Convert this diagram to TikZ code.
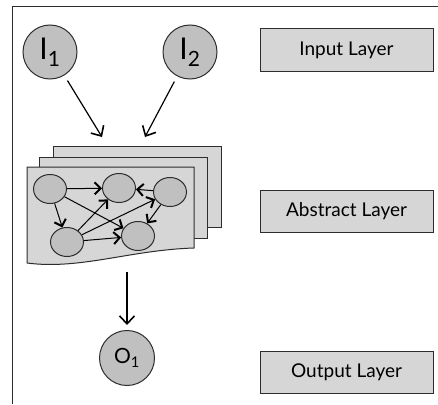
\documentclass[tikz,border=0pt]{standalone}
\usepackage{fontspec}
\setmainfont{Lato}
\usetikzlibrary{arrows.meta, shapes.geometric}
\definecolor{UnitGray}{RGB}{192,192,192}
\definecolor{SheetGray}{RGB}{214,214,214}
\definecolor{EdgeGray}{RGB}{45,45,45}

\begin{document}
\begin{tikzpicture}[x=1pt, y=-1pt,
    unit/.style={circle, draw=EdgeGray, fill=UnitGray, line width=1pt,
                 minimum size=54pt, inner sep=0pt},
    cell/.style={ellipse, draw=EdgeGray, fill=UnitGray, line width=1pt,
                 minimum width=33pt, minimum height=29pt, inner sep=0pt},
    layerbox/.style={draw=EdgeGray, fill=SheetGray, line width=1pt,
                     minimum width=173pt, minimum height=42pt,
                     font=\fontsize{19}{22}\selectfont},
    sheet/.style={draw=EdgeGray, fill=SheetGray, line width=1pt},
    flow/.style={-{Straight Barb[length=8pt, width=15pt, line width=1.6pt]}, line width=1.2pt},
    link/.style={-{Straight Barb[length=6pt, width=12pt, line width=2pt]}, line width=1pt}]
            \useasboundingbox (0,0) rectangle (438,404);
            % Frame (top and left edges only)
            \draw[EdgeGray, line width=1pt] (12,404) -- (12,7) -- (438,7);
            % Input units
            \node[unit, font=\fontsize{30}{32}\selectfont] (i1) at (50,52) {I\textsubscript{1}};
            \node[unit, font=\fontsize{30}{32}\selectfont] (i2) at (190,52) {I\textsubscript{2}};
            % Stacked sheets of the abstract layer
            \draw[sheet] (53,146) rectangle (221,227);
            \draw[sheet] (39,157) rectangle (207,238);
            \draw[sheet] (27,167) -- (194,167) -- (194,248)
                .. controls (130,250) and (80,270) .. (27,263) -- cycle;
            % Hidden cells
            \foreach \n/\x/\y in {a/50/189, b/119/188, c/170/192, d/67/242, e/138/236} {
                \node[cell] (\n) at (\x,\y) {};
            }
            \foreach \s/\t in {a/b, a/d, a/e, d/b, d/c, d/e, c/b, c/e} {
                \draw[link] (\s) -- (\t);
            }
            % Output unit
            \node[unit, minimum size=55pt, font=\fontsize{21}{24}\selectfont] (o1) at (127,358) {O\textsubscript{1}};
            % Flow between layers
            \coordinate (absin1) at (102,137);
            \coordinate (absin2) at (145,137);
            \coordinate (absout) at (127,272);
            \draw[flow, shorten <=6pt] (i1) -- (absin1);
            \draw[flow, shorten <=6pt] (i2) -- (absin2);
            \draw[flow, shorten >=5pt] (absout) -- (o1);
            % Layer captions
            \node[layerbox] (inlayer) at (346.5,50) {Input Layer};
            \node[layerbox] (abslayer) at (346.5,211) {Abstract Layer};
            \node[layerbox] (outlayer) at (346.5,372) {Output Layer};
        \end{tikzpicture}
\end{document}
